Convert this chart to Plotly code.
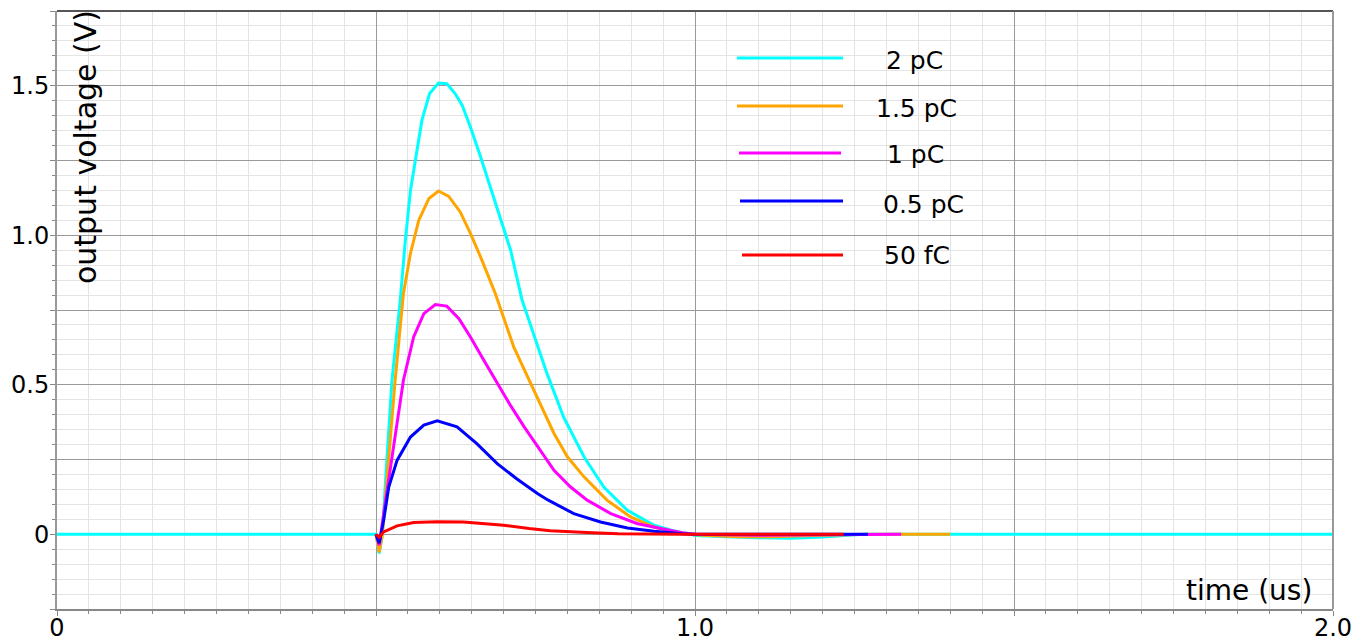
import plotly.graph_objects as go

# ---- data (time in us, voltage in V) ----
labels = ["2 pC", "1.5 pC", "1 pC", "0.5 pC", "50 fC"]
colors = ["#00FFFF", "#FFA500", "#FF00FF", "#0000FF", "#FF0000"]

t_2pC = [0, 0.5, 0.505, 0.510, 0.515, 0.525, 0.538, 0.546, 0.554, 0.562, 0.572, 0.584, 0.598, 0.611,
         0.624, 0.635, 0.648, 0.664, 0.679, 0.695, 0.711, 0.729, 0.747, 0.768, 0.794, 0.826, 0.857,
         0.894, 0.936, 0.964, 0.993, 1.0, 1.05, 1.1, 1.15, 1.2, 1.25, 1.27, 2.0]
v_2pC = [0, 0, -0.064, 0.0, 0.18, 0.515, 0.783, 0.983, 1.150, 1.261, 1.385, 1.474, 1.509, 1.507,
         1.474, 1.435, 1.362, 1.262, 1.162, 1.061, 0.950, 0.783, 0.672, 0.538, 0.392, 0.259, 0.158,
         0.080, 0.030, 0.013, 0.0, -0.004, -0.008, -0.012, -0.013, -0.009, -0.002, 0, 0]

t_15pC = [0.5, 0.505, 0.510, 0.517, 0.530, 0.543, 0.554, 0.567, 0.583, 0.598, 0.614, 0.632, 0.648,
          0.664, 0.687, 0.716, 0.753, 0.779, 0.800, 0.826, 0.862, 0.899, 0.936, 0.962, 0.99, 1.02,
          1.07, 1.12, 1.17, 1.22, 1.27, 1.40]
v_15pC = [0, -0.06, 0.0, 0.181, 0.515, 0.805, 0.939, 1.050, 1.123, 1.148, 1.130, 1.078, 1.006,
          0.927, 0.805, 0.626, 0.455, 0.337, 0.259, 0.192, 0.114, 0.058, 0.024, 0.010, 0.0, -0.004,
          -0.008, -0.008, -0.005, -0.002, 0, 0]

t_1pC = [0.5, 0.505, 0.512, 0.528, 0.543, 0.559, 0.575, 0.593, 0.611, 0.630, 0.648, 0.669, 0.690,
         0.711, 0.732, 0.753, 0.779, 0.805, 0.831, 0.868, 0.909, 0.946, 0.98, 1.0, 1.1, 1.2, 1.323]
v_1pC = [0, -0.037, 0.069, 0.292, 0.515, 0.660, 0.738, 0.768, 0.763, 0.721, 0.660, 0.582, 0.504,
         0.430, 0.360, 0.295, 0.214, 0.158, 0.114, 0.069, 0.036, 0.019, 0.005, 0, -0.003, -0.002, 0]

t_05pC = [0.5, 0.505, 0.512, 0.520, 0.533, 0.554, 0.575, 0.596, 0.627, 0.658, 0.690, 0.721, 0.753,
          0.770, 0.810, 0.852, 0.894, 0.936, 0.98, 1.0, 1.271]
v_05pC = [0, -0.03, 0.047, 0.158, 0.247, 0.325, 0.365, 0.379, 0.359, 0.303, 0.236, 0.185, 0.136,
          0.114, 0.069, 0.041, 0.021, 0.010, 0.002, 0, 0]

t_50fC = [0.5, 0.505, 0.512, 0.533, 0.559, 0.596, 0.637, 0.700, 0.740, 0.773, 0.83, 0.88, 0.93, 0.98, 1.233]
v_50fC = [0, -0.01, 0.008, 0.028, 0.039, 0.042, 0.041, 0.030, 0.019, 0.012, 0.006, 0.002, 0.001, 0, 0]

series_t = [t_2pC, t_15pC, t_1pC, t_05pC, t_50fC]
series_v = [v_2pC, v_15pC, v_1pC, v_05pC, v_50fC]

y_tickvals = [-0.25, 0, 0.25, 0.5, 0.75, 1.0, 1.25, 1.5, 1.75]
y_ticktext = ["", "0", "", "0.5", "", "1.0", "", "1.5", ""]
x_tickvals = [0, 0.5, 1.0, 1.5, 2.0]
x_ticktext = ["0", "", "1.0", "", "2.0"]

FONT = "DejaVu Sans"
L, R, T, B = 57, 1333, 11, 608.75
PW, PH = R - L, B - T

def px(x):
    return (x - L) / PW

def py(y):
    return (B - y) / PH

fig = go.Figure()
for t, v, c, name in zip(series_t, series_v, colors, labels):
    fig.add_trace(go.Scatter(x=t, y=v, mode="lines", name=name,
                             line=dict(color=c, width=3), showlegend=False))

fig.update_layout(
    width=1356, height=643,
    margin=dict(l=L, r=1356 - R, t=T, b=643 - B, autoexpand=False),
    paper_bgcolor="white", plot_bgcolor="white",
    font=dict(family=FONT, size=24, color="black"),
)
fig.update_xaxes(
    range=[0, 2.0], tickmode="array", tickvals=x_tickvals, ticktext=x_ticktext,
    automargin=False,
    showgrid=True, gridcolor="#9a9a9a", gridwidth=1,
    ticks="outside", ticklen=5, tickcolor="#888", tickfont=dict(size=24, family=FONT),
    ticklabelstandoff=-9,
    showline=True, linecolor="#888", linewidth=2, mirror=False, zeroline=False,
    minor=dict(tickmode="linear", tick0=0, dtick=0.05, showgrid=True, gridcolor="#e4e4e4",
               ticks="outside", ticklen=3, tickcolor="#888"),
)
fig.update_yaxes(
    range=[-0.25, 1.75], tickmode="array", tickvals=y_tickvals, ticktext=y_ticktext,
    automargin=False,
    showgrid=True, gridcolor="#9a9a9a", gridwidth=1,
    ticks="outside", ticklen=5, tickcolor="#888", tickfont=dict(size=24, family=FONT),
    ticklabelstandoff=-4,
    showline=True, linecolor="#999", linewidth=2, zeroline=False,
    minor=dict(tickmode="linear", tick0=0, dtick=0.05, showgrid=True, gridcolor="#e4e4e4",
               ticks="outside", ticklen=3, tickcolor="#888"),
)

# frame: top (dark) and right borders
fig.add_shape(type="line", xref="paper", yref="paper", x0=0, x1=1, y0=1, y1=1,
              line=dict(color="#555", width=2))
fig.add_shape(type="line", xref="paper", yref="paper", x0=1, x1=1, y0=0, y1=1,
              line=dict(color="#999", width=2))

# axis titles placed inside the plot area
fig.add_annotation(text="output voltage (V)", xref="paper", yref="paper",
                   x=px(85), y=py(147), textangle=-90, xanchor="center", yanchor="middle",
                   showarrow=False, font=dict(size=30, family=FONT, color="black"))
fig.add_annotation(text="time (us)", xref="paper", yref="paper",
                   x=px(1249), y=py(590), xanchor="center", yanchor="middle",
                   showarrow=False, font=dict(size=28, family=FONT, color="black"))

# custom legend (long sample lines, labels to the right)
leg_line_y = [58, 106, 153, 201, 255]
leg_line_x = [(737, 843), (737, 843), (739, 841), (740, 843), (742, 843)]
leg_text_x = [914, 916, 915, 923, 917]
leg_text_y = [60, 108, 154, 204, 255]
for i, (lab, c) in enumerate(zip(labels, colors)):
    x0, x1 = leg_line_x[i]
    fig.add_shape(type="line", xref="paper", yref="paper",
                  x0=px(x0), x1=px(x1), y0=py(leg_line_y[i]), y1=py(leg_line_y[i]),
                  line=dict(color=c, width=3))
    fig.add_annotation(text=lab, xref="paper", yref="paper",
                       x=px(leg_text_x[i]), y=py(leg_text_y[i]), xanchor="center", yanchor="middle",
                       showarrow=False, font=dict(size=25, family=FONT, color="black"))

fig.write_html("out.html")
